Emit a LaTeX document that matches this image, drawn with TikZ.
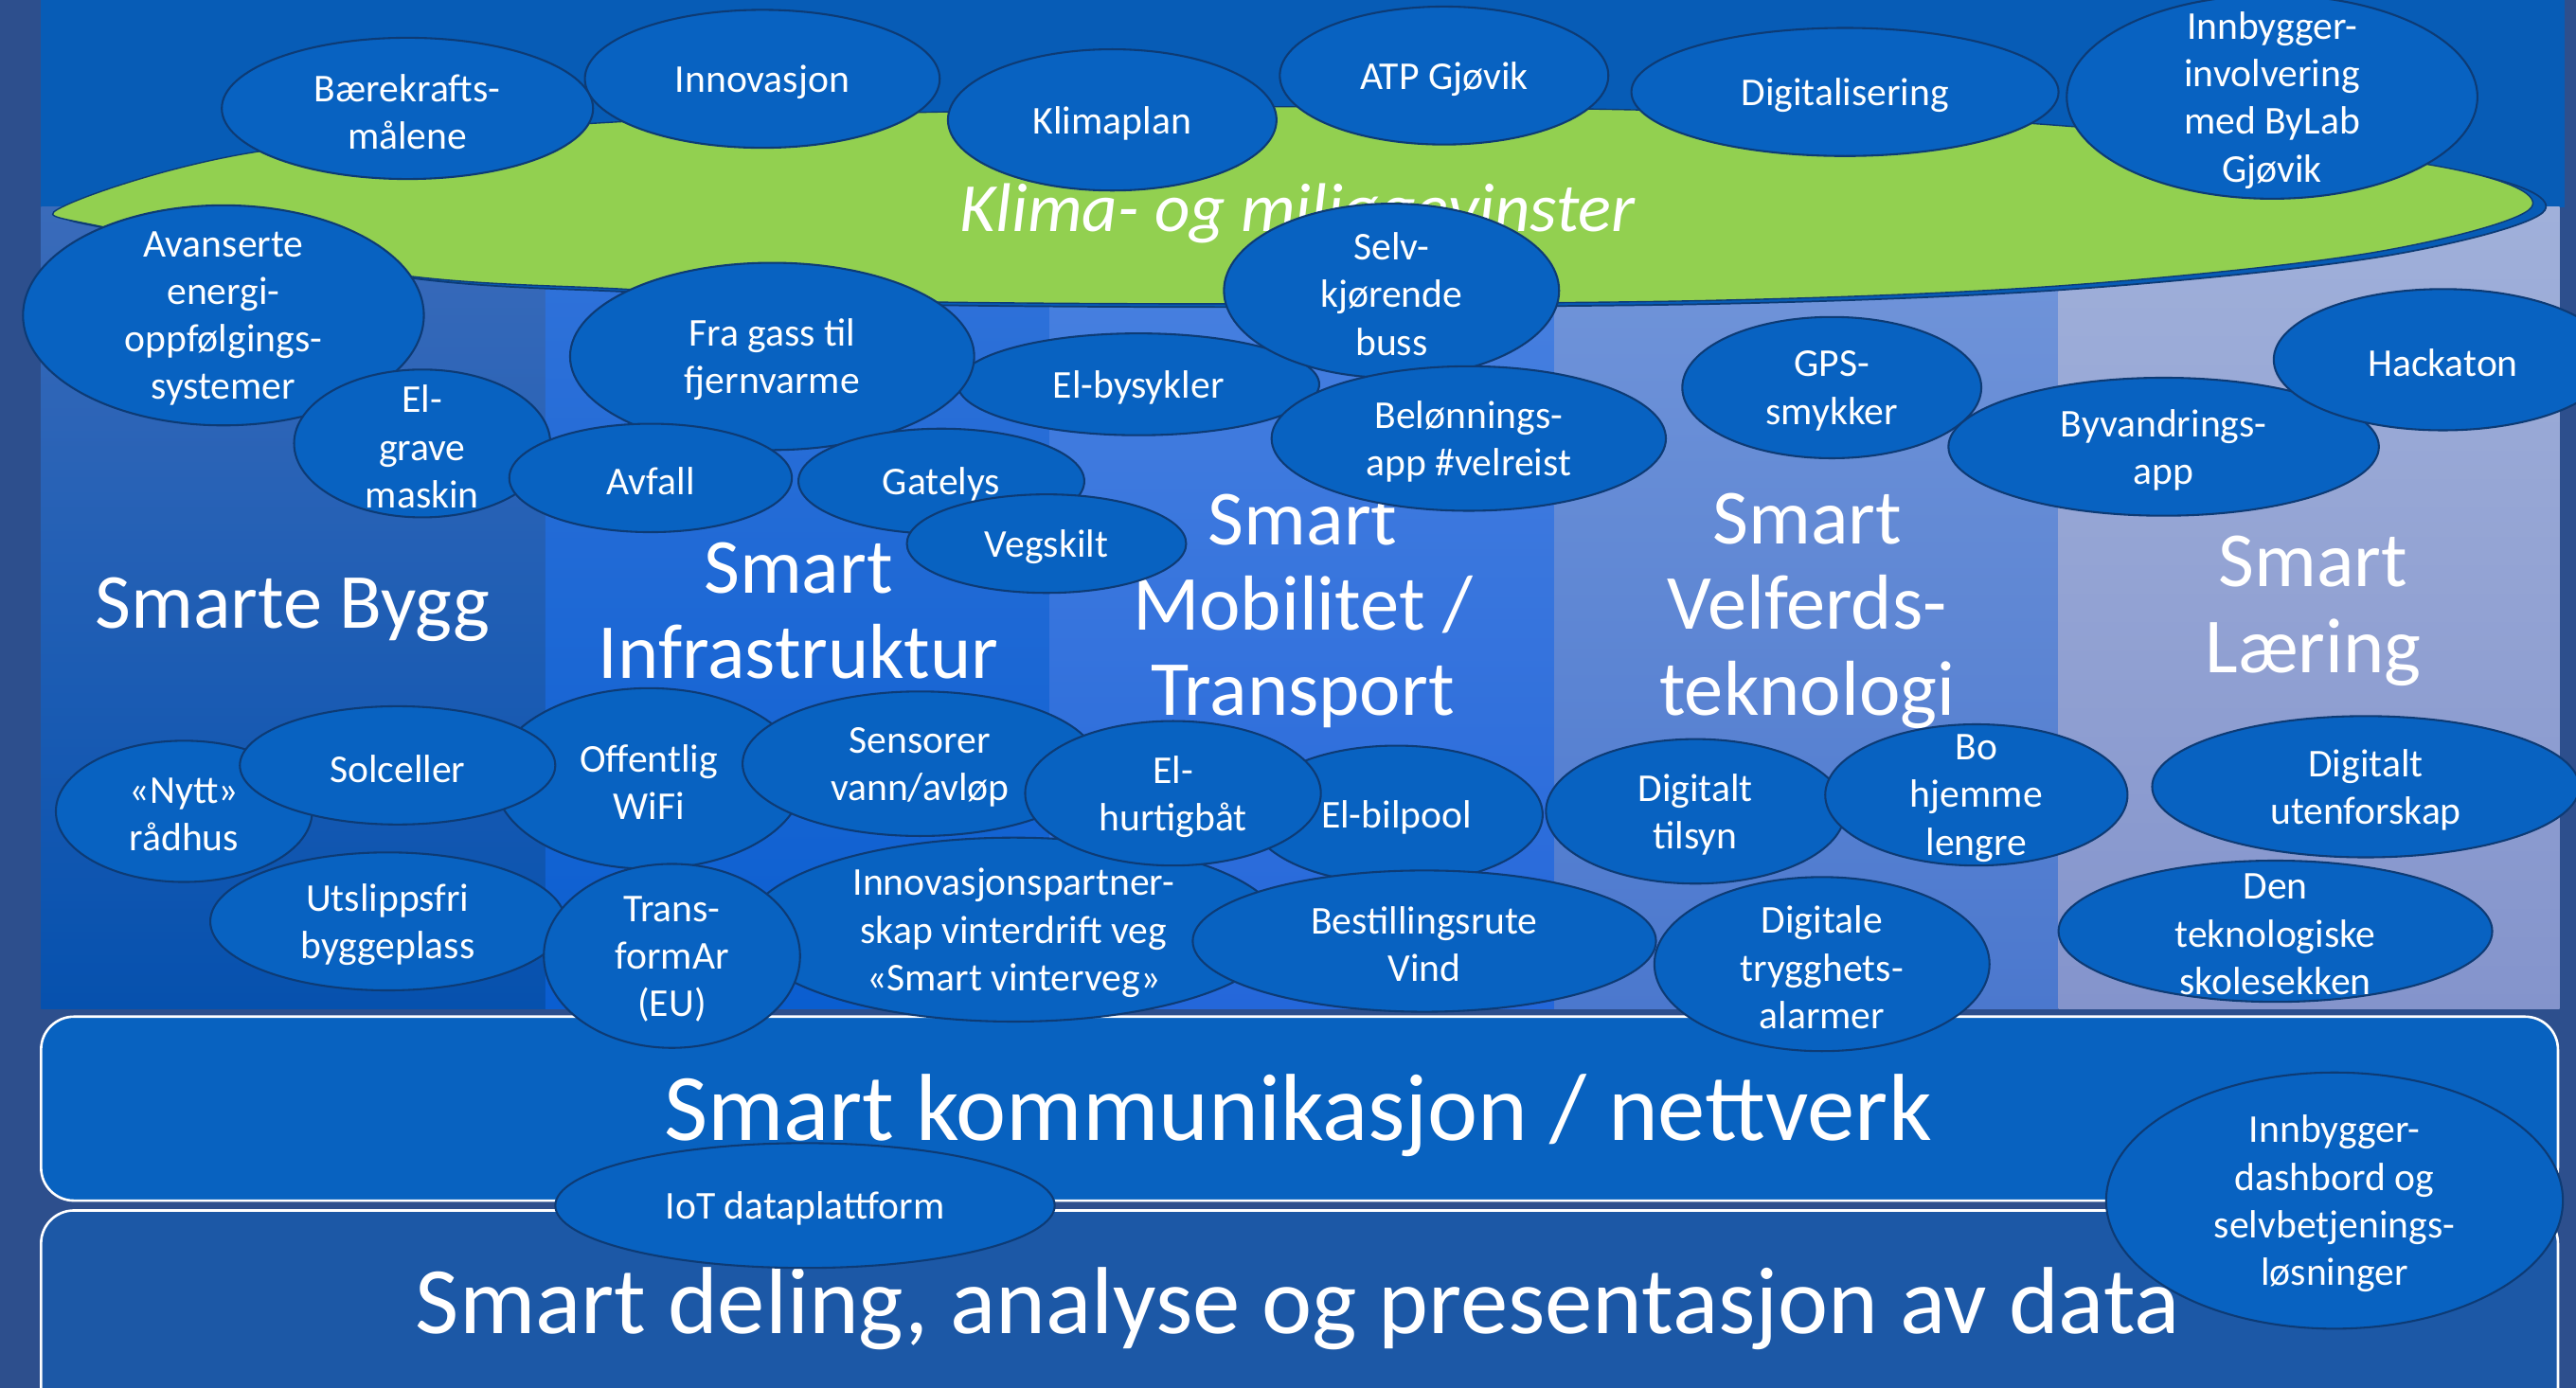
\documentclass[tikz,border=0pt]{standalone}
\usepackage{fontspec}
\setmainfont{Carlito}
\usetikzlibrary{shapes.geometric}
\definecolor{bgstrip}{HTML}{2D4F8D}
\definecolor{topband}{HTML}{075CB6}
\definecolor{bubfill}{HTML}{0862C1}
\definecolor{bubline}{HTML}{0D3B75}
\definecolor{greenc}{HTML}{92D050}
\definecolor{byggT}{HTML}{3A6BBA}
\definecolor{byggB}{HTML}{0651AE}
\definecolor{infraT}{HTML}{3273DA}
\definecolor{infraB}{HTML}{0A5ED0}
\definecolor{mobT}{HTML}{4A82E0}
\definecolor{mobB}{HTML}{2467DA}
\definecolor{velT}{HTML}{7396DA}
\definecolor{velB}{HTML}{4B78CE}
\definecolor{laerT}{HTML}{A0B0DA}
\definecolor{laerB}{HTML}{8494CC}
\definecolor{bandA}{HTML}{0862C0}
\definecolor{bandB}{HTML}{1C58A6}
\newcommand{\bubble}[6]{%
  \node[bub,minimum width=#4pt,minimum height=#5pt] (#1) at (#2,#3) {};
  \node[bubt] (#1t) at (#1.center) {#6};}
\begin{document}
\begin{tikzpicture}[x=1pt,y=-1pt,
  bub/.style={ellipse, draw=bubline, fill=bubfill, line width=1.2pt, inner sep=0pt},
  bubt/.style={text=white, align=center, font=\fontsize{24}{29}\selectfont, inner sep=0pt, yshift=-2pt},
  colt/.style={text=white, align=center, font=\fontsize{47.5}{52}\selectfont, inner sep=0pt},
  bandt/.style={text=white, font=\fontsize{58}{70}\selectfont, inner sep=0pt},
  band/.style={draw=white, line width=1.5pt, rounded corners=20pt}]
\useasboundingbox (0,0) rectangle (1568,845);
\clip (0,0) rectangle (1568,845);
\fill[bgstrip] (0,0) rectangle (1568,845);
% top band
\fill[topband] (25,0) rectangle (1561,126);
% columns
\shade[top color=byggT, bottom color=byggB] (25,126) rectangle (332,614);
\shade[top color=infraT, bottom color=infraB] (332,126) rectangle (639,614);
\shade[top color=mobT, bottom color=mobB] (639,126) rectangle (946,614);
\shade[top color=velT, bottom color=velB] (946,126) rectangle (1253,614);
\shade[top color=laerT, bottom color=laerB] (1253,126) rectangle (1558,614);
% bands
\fill[bandA, band] (25,619) rectangle (1557,731);
\fill[bandB, band] (25,737) rectangle (1557,880);
% green cloud with shadow
\filldraw[fill=topband, draw=bubline, line width=1pt, shift={(8,2)}]
  plot[smooth cycle, tension=0.55] coordinates {(40,125) (159,92) (380,74) (580,68) (780,65) (1000,67) (1234,75) (1477,100) (1541,126) (1443,154) (1254,174) (1038,183) (750,185) (520,183) (380,176) (248,168) (62,138)};
\filldraw[fill=greenc, draw=bubline, line width=0.8pt]
  plot[smooth cycle, tension=0.55] coordinates {(40,125) (159,92) (380,74) (580,68) (780,65) (1000,67) (1234,75) (1477,100) (1541,126) (1443,154) (1254,174) (1038,183) (750,185) (520,183) (380,176) (248,168) (62,138)};
\node[text=white, font=\itshape\fontsize{42}{50}\selectfont, inner sep=0pt] (klima) at (790,130) {Klima- og miljøgevinster};
% column titles
\node[colt] (cBygg) at (178,371) {Smarte Bygg};
\node[colt] (cInfra) at (486,372) {Smart\\Infrastruktur};
\node[colt] (cMob) at (793,372) {Smart\\Mobilitet /\\Transport};
\node[colt] (cVel) at (1100,372) {Smart\\Velferds-\\teknologi};
\node[colt] (cLaer) at (1408,372) {Smart\\Læring};
% band titles
\node[bandt] (kom) at (790,679) {Smart kommunikasjon / nettverk};
\node[bandt] (del) at (790,797) {Smart deling, analyse og presentasjon av data};
% top bubbles
\bubble{b2}{464}{48}{216}{84}{Innovasjon}
\bubble{b1}{248}{66}{226}{86}{Bærekrafts-\\målene}
\bubble{b3}{677}{73}{200}{86}{Klimaplan}
\bubble{b4}{879}{46}{200}{84}{ATP Gjøvik}
\bubble{b5}{1123}{56}{260}{78}{Digitalisering}
\bubble{b6}{1383}{59}{250}{124}{Innbygger-\\involvering\\med ByLab\\Gjøvik}
% middle bubbles
\bubble{b7}{136}{192}{244}{134}{Avanserte\\energi-\\oppfølgings-\\systemer}
\bubble{b8}{257}{270}{156}{90}{El-\\grave\\maskin}
\bubble{b11}{693}{234}{220}{62}{El-bysykler}
\bubble{b9}{470}{217}{246}{114}{Fra gass til\\fjernvarme}
\bubble{b10}{396}{291}{172}{66}{Avfall}
\bubble{b12}{847}{177}{204}{106}{Selv-\\kjørende\\buss}
\bubble{b13}{894}{267}{240}{88}{Belønnings-\\app \#velreist}
\bubble{b14}{573}{293}{174}{64}{Gatelys}
\bubble{b15}{637}{331}{170}{60}{Vegskilt}
\bubble{b16}{1115}{236}{182}{86}{GPS-\\smykker}
\bubble{b17}{1317}{272}{262}{84}{Byvandrings-\\app}
\bubble{b18}{1487}{219}{206}{86}{Hackaton}
% lower bubbles
\bubble{b19}{112}{494}{156}{86}{«Nytt»\\rådhus}
\bubble{b20}{395}{474}{188}{110}{Offentlig\\WiFi}
\bubble{b21}{242}{466}{192}{72}{Solceller}
\bubble{b22}{560}{465}{216}{88}{Sensorer\\vann/avløp}
\bubble{b23}{236}{561}{216}{84}{Utslippsfri\\byggeplass}
\bubble{b24}{617}{566}{326}{112}{Innovasjonspartner-\\skap vinterdrift veg\\«Smart vinterveg»}
\bubble{b25}{409}{582}{156}{112}{Trans-\\formAr\\(EU)}
\bubble{b26}{850}{496}{178}{84}{El-bilpool}
\bubble{b27}{714}{483}{180}{88}{El-\\hurtigbåt}
\bubble{b28}{867}{573}{282}{86}{Bestillingsrute\\Vind}
\bubble{b29}{1032}{494}{182}{88}{Digitalt\\tilsyn}
\bubble{b30}{1203}{484}{184}{86}{Bo\\hjemme\\lengre}
\bubble{b31}{1109}{587}{204}{106}{Digitale\\trygghets-\\alarmer}
\bubble{b32}{1440}{479}{260}{86}{Digitalt\\utenforskap}
\bubble{b33}{1385}{567}{264}{86}{Den\\teknologiske\\skolesekken}
\bubble{b34}{490}{734}{304}{76}{IoT dataplattform}
\bubble{b35}{1421}{731}{278}{156}{Innbygger-\\dashbord og\\selvbetjenings-\\løsninger}
\end{tikzpicture}
\end{document}
